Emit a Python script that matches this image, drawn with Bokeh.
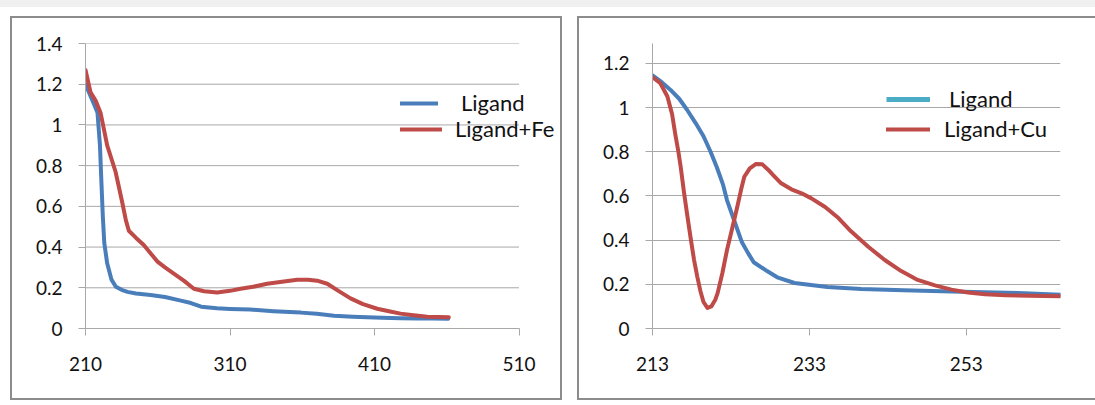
from bokeh.plotting import figure
from bokeh.layouts import row, column
from bokeh.models import Range1d, FixedTicker, Legend, LegendItem, Spacer
from bokeh.embed import file_html
from bokeh.resources import INLINE

# ---------------- data ----------------
# Left panel: Ligand vs Ligand+Fe
fe_lig_x = [210, 213, 216, 218.3, 220, 221, 222, 223, 225, 228, 231, 235, 239, 245,
            255, 265, 276, 283, 290, 301, 310, 324, 340, 359, 370, 382, 395, 405,
            415, 428, 440, 450, 461]
fe_lig_y = [1.20, 1.15, 1.10, 1.06, 0.90, 0.72, 0.55, 0.42, 0.32, 0.24, 0.205, 0.19,
            0.18, 0.172, 0.165, 0.155, 0.137, 0.125, 0.107, 0.099, 0.096, 0.093,
            0.085, 0.078, 0.072, 0.063, 0.058, 0.055, 0.053, 0.050, 0.049, 0.049, 0.048]

fe_x = [210, 213.5, 217, 220.4, 225, 230.8, 235.4, 238, 240, 245, 250.3, 255, 259.6,
        265, 271.1, 278, 285, 292, 301.1, 310, 317.3, 326, 335.7, 346, 356.5, 364,
        370.3, 377.3, 385, 393.4, 402, 411.9, 420, 428, 437, 446.5, 461.4]
fe_y = [1.27, 1.16, 1.12, 1.06, 0.90, 0.77, 0.62, 0.53, 0.48, 0.445, 0.41, 0.37,
        0.33, 0.30, 0.27, 0.235, 0.195, 0.183, 0.177, 0.185, 0.195, 0.205, 0.22,
        0.23, 0.24, 0.24, 0.235, 0.22, 0.185, 0.148, 0.12, 0.097, 0.085, 0.073,
        0.065, 0.058, 0.055]

fe_x_ticks = [210, 310, 410, 510]
fe_x_labels = ["210", "310", "410", "510"]
fe_y_ticks = [0, 0.2, 0.4, 0.6, 0.8, 1.0, 1.2, 1.4]
fe_y_labels = ["0", "0.2", "0.4", "0.6", "0.8", "1", "1.2", "1.4"]

# Right panel: Ligand vs Ligand+Cu
cu_lig_x = [213, 214, 215.3, 216.4, 217.4, 218.5, 219.5, 220.4, 221.2, 222, 222.5,
            223.4, 224.4, 225.2, 225.9, 227.6, 229, 231.1, 235.3, 239.6, 245, 251.1,
            259.6, 265]
cu_lig_y = [1.146, 1.12, 1.08, 1.04, 0.99, 0.93, 0.87, 0.80, 0.73, 0.65, 0.58, 0.49,
            0.39, 0.34, 0.30, 0.26, 0.23, 0.206, 0.188, 0.179, 0.173, 0.168, 0.161, 0.153]

cu_x = [213, 214, 214.9, 215.5, 215.9, 216.3, 216.6, 217.0, 217.4, 217.9, 218.3,
        218.7, 219.1, 219.5, 220.0, 220.5, 221.0, 221.3, 221.9, 222.5, 223.0, 223.4,
        223.8, 224.3, 224.7, 225.4, 226.2, 227.0, 227.7, 228.5, 229.4, 230.7, 232,
        233.2, 235, 236.7, 238.3, 240.5, 242.6, 244.7, 246.8, 249, 251.1, 253.2,
        255.4, 258, 261, 265]
cu_y = [1.138, 1.11, 1.05, 0.97, 0.88, 0.80, 0.73, 0.62, 0.52, 0.40, 0.31, 0.236,
        0.17, 0.12, 0.093, 0.10, 0.13, 0.16, 0.25, 0.356, 0.43, 0.49, 0.55, 0.63,
        0.687, 0.725, 0.745, 0.743, 0.72, 0.69, 0.657, 0.63, 0.612, 0.59, 0.55,
        0.50, 0.44, 0.37, 0.31, 0.26, 0.22, 0.195, 0.176, 0.163, 0.155, 0.15, 0.148, 0.146]

cu_x_ticks = [213, 233, 253]
cu_x_labels = ["213", "233", "253"]
cu_y_ticks = [0, 0.2, 0.4, 0.6, 0.8, 1.0, 1.2]
cu_y_labels = ["0", "0.2", "0.4", "0.6", "0.8", "1", "1.2"]

legend_proxy_x = [float("nan")]
legend_proxy_y = [float("nan")]

# ---------------- styles ----------------
BLUE = "#4a7ebb"
RED = "#be4b48"
CYAN = "#4bacc6"
GRID = "#a8a8a8"
BOX = "#8c8c8c"
FONT = "Lato"
FS = "19px"
LFS = "22px"


def make_panel(width, height, xr, yr, xt, xl, yt, yl, borders):
    p = figure(width=width, height=height, x_range=Range1d(*xr), y_range=Range1d(*yr),
               output_backend="svg", toolbar_location=None,
               min_border_left=borders[0], min_border_right=borders[1],
               min_border_top=borders[2], min_border_bottom=borders[3])
    p.styles = {"outline": "2px solid " + BOX}
    p.outline_line_color = None
    p.background_fill_color = "white"
    p.border_fill_color = "white"
    p.xgrid.visible = False
    p.ygrid.grid_line_color = GRID
    p.ygrid.grid_line_width = 1
    p.xaxis.ticker = FixedTicker(ticks=xt)
    p.yaxis.ticker = FixedTicker(ticks=yt)
    p.xaxis.major_label_overrides = {t: s for t, s in zip(xt, xl)}
    p.yaxis.major_label_overrides = {t: s for t, s in zip(yt, yl)}
    for ax in (p.xaxis[0], p.yaxis[0]):
        ax.axis_line_color = GRID
        ax.major_tick_line_color = GRID
        ax.major_tick_in = 0
        ax.major_tick_out = 7
        ax.minor_tick_line_color = None
        ax.major_label_text_font = FONT
        ax.major_label_text_font_size = FS
        ax.major_label_text_color = "#111111"
    p.xaxis.major_label_standoff = 21
    p.yaxis.major_label_standoff = 16
    return p


def add_legend_item(p, label, renderer, loc, gw, standoff):
    lg = Legend(items=[LegendItem(label=label, renderers=[renderer])], location=loc,
                glyph_width=gw, glyph_height=20, label_height=20, label_standoff=standoff,
                label_text_font=FONT, label_text_font_size=LFS, label_text_color="#111111",
                background_fill_alpha=0, border_line_alpha=0, padding=0, margin=0, spacing=0)
    p.add_layout(lg)


# Left panel: frame extends under the legend; axis and gridlines stop at 510
left = make_panel(548, 380, (210, 538.7), (0, 1.4), fe_x_ticks, fe_x_labels,
                  fe_y_ticks, fe_y_labels, (73, 0, 24, 70))
left.xaxis.bounds = (fe_x_ticks[0], fe_x_ticks[-1])
left.ygrid.visible = False
left.segment(x0=[fe_x_ticks[0]] * len(fe_y_ticks), y0=fe_y_ticks,
             x1=[fe_x_ticks[-1]] * len(fe_y_ticks), y1=fe_y_ticks,
             line_color=GRID, line_width=1)
r1 = left.line(fe_lig_x, fe_lig_y, line_color=BLUE, line_width=4, line_join="round", line_cap="round")
r2 = left.line(fe_x, fe_y, line_color=RED, line_width=4, line_join="round", line_cap="round")
add_legend_item(left, "Ligand", r1, (315, 212), 38, 23)
add_legend_item(left, "Ligand+Fe", r2, (315, 186), 42, 13)

right = make_panel(516, 380, (213, 265), (0, 1.29), cu_x_ticks, cu_x_labels,
                   cu_y_ticks, cu_y_labels, (73, 35, 25, 69))
right.line(cu_lig_x, cu_lig_y, line_color=BLUE, line_width=4, line_join="round", line_cap="round")
r4 = right.line(cu_x, cu_y, line_color=RED, line_width=4, line_join="round", line_cap="round")
r3 = right.line(legend_proxy_x, legend_proxy_y, line_color=CYAN, line_width=5)
add_legend_item(right, "Ligand", r3, (234, 216), 44, 19)
add_legend_item(right, "Ligand+Cu", r4, (234, 186), 44, 14)

top_strip = Spacer(width=1095, height=7, styles={"background-color": "#f0f0f0"})
layout = column(top_strip, Spacer(width=10, height=11),
                row(Spacer(width=12, height=10), left, Spacer(width=19, height=10), right))
open("out.html", "w").write(file_html(layout, INLINE))
